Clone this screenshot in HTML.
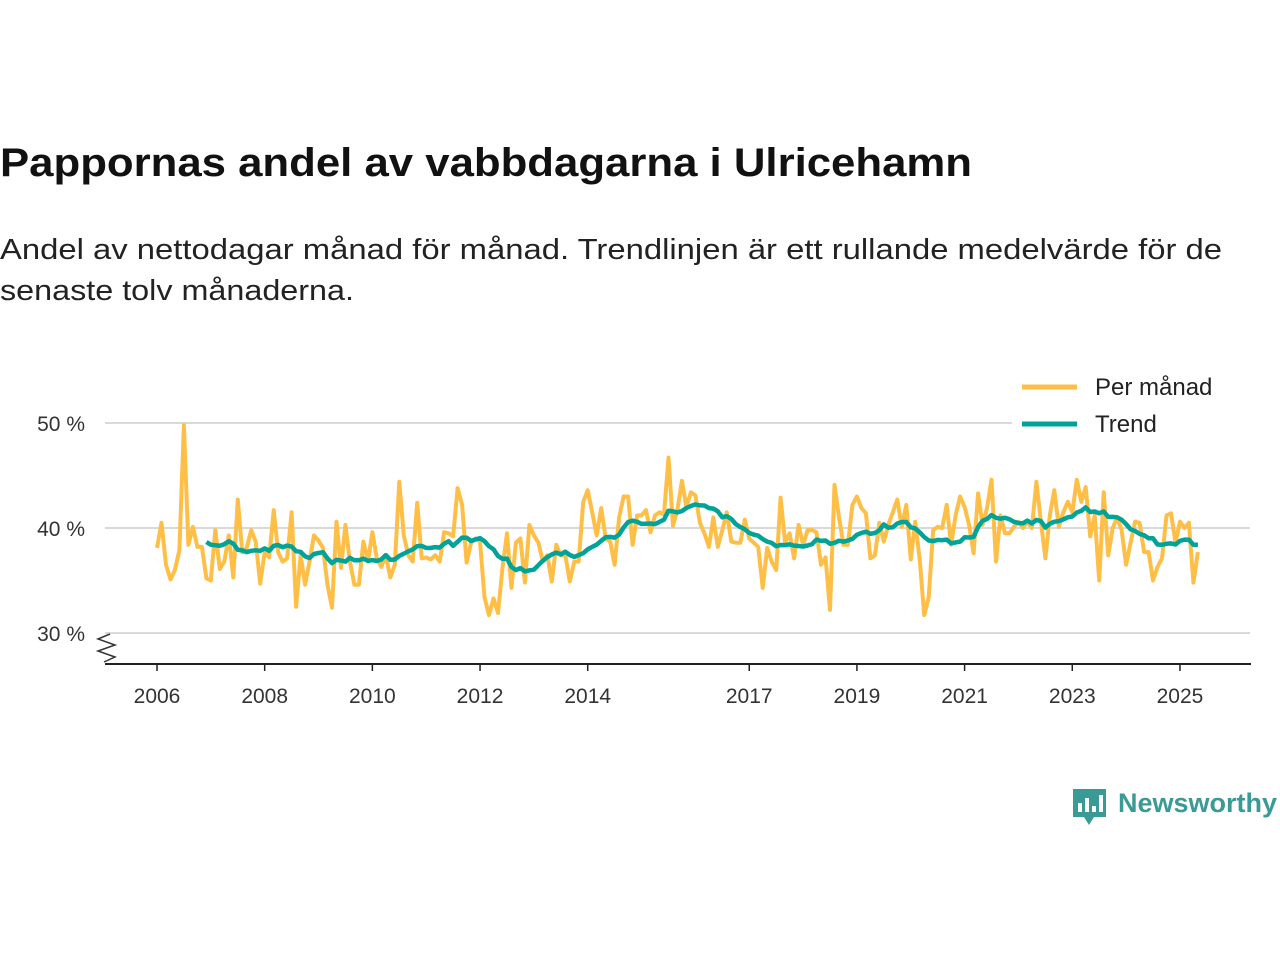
<!DOCTYPE html>
<html><head><meta charset="utf-8"><style>
html,body{margin:0;padding:0;background:#fff;}
svg{display:block;font-family:"Liberation Sans","DejaVu Sans",sans-serif;}
</style></head><body>
<svg id="chart" width="1280" height="960" viewBox="0 0 1280 960">
<text x="0" y="176" font-size="40" font-weight="bold" fill="#111" textLength="972" lengthAdjust="spacingAndGlyphs">Pappornas andel av vabbdagarna i Ulricehamn</text>
<text x="0" y="259" font-size="29" fill="#222" textLength="1222" lengthAdjust="spacingAndGlyphs">Andel av nettodagar månad för månad. Trendlinjen är ett rullande medelvärde för de</text>
<text x="0" y="300" font-size="29" fill="#222" textLength="354" lengthAdjust="spacingAndGlyphs">senaste tolv månaderna.</text>
<g id="grid"></g>
<g id="yaxis"></g>
<g id="xaxis"></g>
<g id="series"></g>
<g>
<rect x="1012" y="366" width="240" height="72" fill="#fff"/>
<line x1="1022" y1="387" x2="1077" y2="387" stroke="#ffbf47" stroke-width="5"/>
<text x="1095" y="395" font-size="24" fill="#222">Per månad</text>
<line x1="1022" y1="424" x2="1077" y2="424" stroke="#00a398" stroke-width="5"/>
<text x="1095" y="432" font-size="24" fill="#222">Trend</text>
</g>
<g>
<path d="M1073 789 h33 v28 h-12 l-5 8 l-5 -8 h-11 z" fill="#3a9a96"/>
<rect x="1078" y="803" width="4" height="9" fill="#fff"/><rect x="1085" y="798" width="4" height="14" fill="#fff"/><rect x="1092" y="806" width="4" height="6" fill="#fff"/><rect x="1099" y="795" width="4" height="17" fill="#fff"/>
<text x="1118" y="812" font-size="27" font-weight="bold" fill="#3a9a96">Newsworthy</text>
</g>
</svg>
<script>
const monthly = [
38.1,40.5,36.5,35.1,36,37.9,49.8,38.4,40.1,38.2,38.2,35.2,
35,39.8,36.1,36.8,39.3,35.3,42.7,37.7,38.1,39.8,38.7,34.7,
37.7,37.2,41.7,37.7,36.8,37.1,41.5,32.5,37.4,34.6,36.8,39.3,
38.8,38.1,34.6,32.4,40.6,36.2,40.3,36.8,34.6,34.6,38.7,36.8,
39.6,37.1,36.3,37.4,35.3,36.5,44.4,39.3,37.4,36.8,42.4,37.1,
37.2,37,37.4,36.8,39.6,39.5,39.2,43.8,42.2,36.7,38.6,39,
38.7,33.4,31.7,33.3,31.9,36.2,39.5,34.3,38.6,39,34.8,40.3,
39.3,38.6,36.8,37.4,34.9,38.4,37.4,37.4,34.9,36.8,36.8,42.5,
43.6,41.5,39.3,41.9,39,38.7,36.5,41,43,43,38.4,41.2,
41.2,41.7,39.6,41.2,41.5,41.3,46.7,40.2,41.8,44.5,42,43.4,
43.1,40.5,39.5,38.2,41,38.2,39.8,41.5,38.7,38.6,38.6,40.8,
39,38.6,38.2,34.3,38.1,36.8,36,42.9,38.6,39.5,37.1,40.3,
38.4,39.8,39.8,39.6,36.5,37.2,32.2,44.1,41,38.4,38.4,42.2,
43,41.9,41.4,37.1,37.4,40.5,38.7,40.3,41.5,42.7,40.1,42.2,
37,40.6,37,31.7,33.4,39.8,40.1,40,42.2,38.4,41.2,43,
42,40.3,37.6,43.3,40.3,41.9,44.6,36.8,41.2,39.5,39.5,40.1,
40.6,40,40.6,40,44.4,40.6,37.1,41.2,43.6,40.1,41.5,42.5,
41.5,44.6,42.5,43.9,39.2,41.2,35,43.4,37.4,40,41,39.8,
36.5,38.6,40.6,40.5,37.7,37.7,35,36.3,37.1,41.2,41.4,38.6,
40.6,40,40.5,34.8,37.7
];
const startYear = 2006;
const tickYears = [2006,2008,2010,2012,2014,2017,2019,2021,2023,2025];
const yTicks = [30,40,50];
const trendWindow = 12;

const NS="http://www.w3.org/2000/svg";
const X0=157, PX_PER_YEAR=53.84;
const xs = m => X0 + m*PX_PER_YEAR/12;
const xYear = y => X0 + (y-startYear)*PX_PER_YEAR;
const ys = v => 528 - (v-40)*10.5;
function mk(tag, attrs, parent){const e=document.createElementNS(NS,tag);for(const k in attrs)e.setAttribute(k,attrs[k]);parent.appendChild(e);return e;}

const grid=document.getElementById('grid'), yaxis=document.getElementById('yaxis'), xaxis=document.getElementById('xaxis'), series=document.getElementById('series');
yTicks.forEach(t=>{
  const l=mk('line',{x1:105,x2:1250,y1:ys(t),y2:ys(t),stroke:'#d9d9d9','stroke-width':2},grid);
  
  
  const tx=mk('text',{x:85,y:ys(t)+8,'font-size':21,fill:'#333','text-anchor':'end'},yaxis);
  tx.textContent=t+' %';
  
  
});
const br=mk('polyline',{points:'110,634 98,639 115,645 98,651 115,657 104,662',fill:'none',stroke:'#333','stroke-width':1.5},yaxis);


const ax=mk('line',{x1:105,x2:1251,y1:664,y2:664,stroke:'#222','stroke-width':2},xaxis);


tickYears.forEach(y=>{
  const x=xYear(y);
  const t=mk('line',{x1:x,x2:x,y1:664,y2:671,stroke:'#222','stroke-width':1.5},xaxis);
  
  
  const tx=mk('text',{x:x,y:703,'font-size':21,fill:'#333','text-anchor':'middle'},xaxis);
  tx.textContent=y;
  
  
});
const mp=mk('polyline',{points:monthly.map((v,i)=>xs(i).toFixed(1)+','+ys(v).toFixed(1)).join(' '),fill:'none',stroke:'#ffbf47','stroke-width':4,'stroke-linejoin':'round'},series);


const trendPts=[];
for(let i=trendWindow-1;i<monthly.length;i++){
  let s=0;for(let j=i-trendWindow+1;j<=i;j++)s+=monthly[j];
  trendPts.push(xs(i).toFixed(1)+','+ys(s/trendWindow).toFixed(1));
}
const tp=mk('polyline',{points:trendPts.join(' '),fill:'none',stroke:'#00a398','stroke-width':4.5,'stroke-linejoin':'round'},series);


</script>
</body></html>
